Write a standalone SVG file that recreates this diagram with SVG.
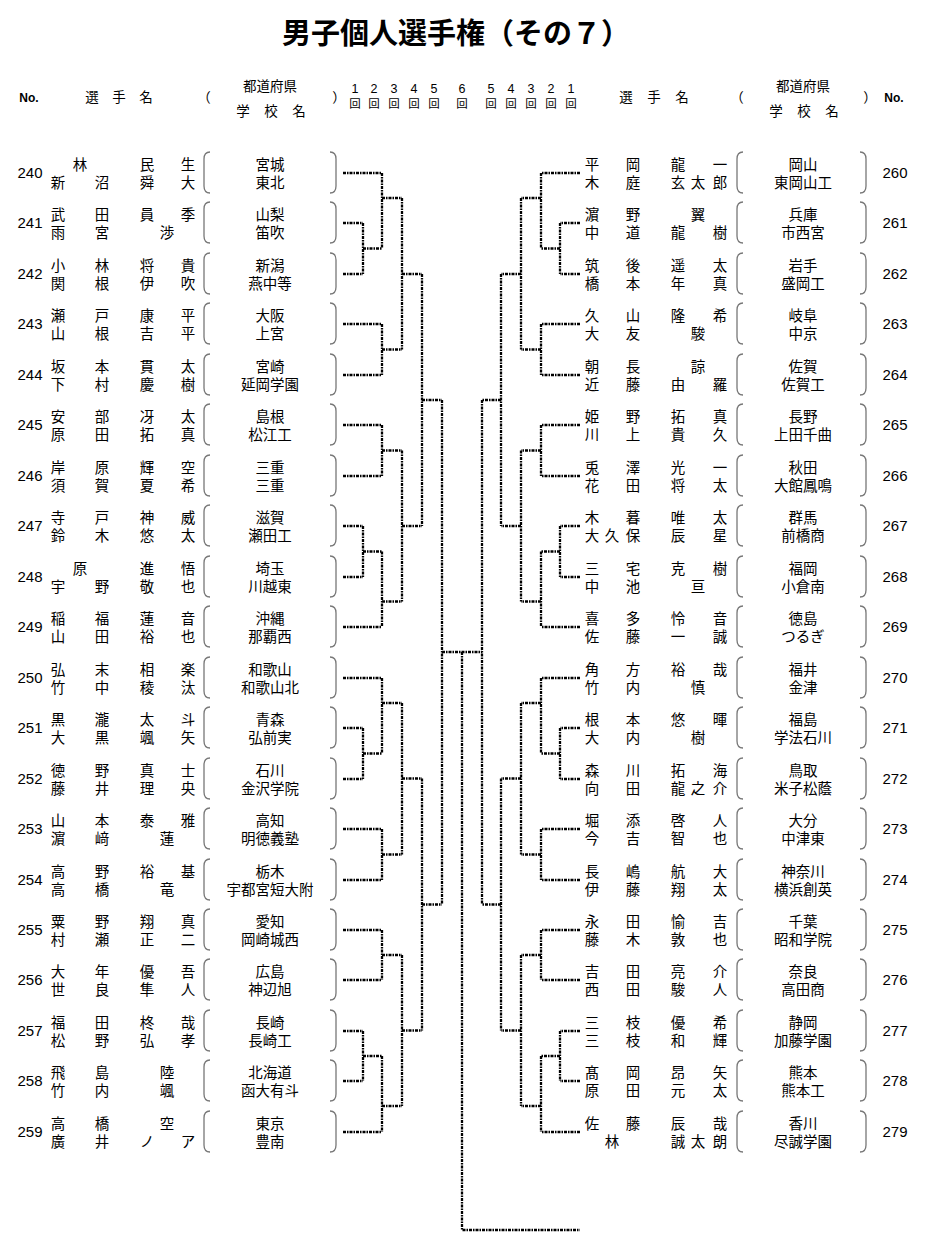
<svg xmlns="http://www.w3.org/2000/svg" xmlns:xlink="http://www.w3.org/1999/xlink" width="931" height="1252" viewBox="0 0 931 1252">
<style>
.bg{fill:#fff}
text{fill:#000}
.t{font-family:"Noto Sans CJK JP",sans-serif;font-size:29px;font-weight:bold;text-anchor:middle}
.h{font-family:"Noto Sans CJK JP",sans-serif;font-size:13.5px;text-anchor:middle}
.hn{font-family:"Liberation Sans",sans-serif;font-size:12px;font-weight:bold;text-anchor:middle}
.rd{font-family:"Liberation Sans",sans-serif;font-size:12.5px;text-anchor:middle}
.rk{font-family:"Noto Sans CJK JP",sans-serif;font-size:11.5px;text-anchor:middle}
.n{font-family:"Noto Sans CJK JP",sans-serif;font-size:14.5px;text-anchor:middle}
.num{font-family:"Liberation Sans",sans-serif;font-size:15px;text-anchor:middle}
.pr{fill:none;stroke:#777;stroke-width:1.3}
.c{fill:none;stroke:#000;stroke-width:2.3;stroke-dasharray:3 1 1.5 1}
</style>
<defs>
<path id="lp" class="pr" d="M6 -21 Q0 -21 0 -14 V13 Q0 20 6 20"/>
<path id="rp" class="pr" d="M0 -21 Q6 -21 6 -14 V13 Q6 20 0 20"/>
</defs>
<rect class="bg" x="0" y="0" width="931" height="1252"/>
<text class="t" x="456" y="44">男子個人選手権（その７）</text>
<g id="header">
<text class="hn" x="29" y="102">No.</text>
<text class="h" x="92 119 146" y="102">選手名</text>
<text class="h" x="204" y="102">（</text>
<text class="h" x="270" y="91">都道府県</text>
<text class="h" x="243 271 299" y="116">学校名</text>
<text class="h" x="339" y="102">）</text>
<text class="rd" x="355 374 394 414 434 462 491 511 531 551 571" y="93">12345654321</text>
<text class="rk" x="355 374 394 414 434 462 491 511 531 551 571" y="108">回回回回回回回回回回回</text>
<text class="h" x="626 654 682" y="102">選手名</text>
<text class="h" x="737" y="102">（</text>
<text class="h" x="803" y="91">都道府県</text>
<text class="h" x="776 804 832" y="116">学校名</text>
<text class="h" x="870" y="102">）</text>
<text class="hn" x="894" y="102">No.</text>
</g>
<g id="connectors">
<path class="c" d="M343 173H382M343 223H363M343 274H363M343 324H382M343 375H382M343 425H382M343 476H382M343 526H363M343 577H363M343 627H382M343 678H382M343 728H363M343 779H363M343 829H382M343 880H382M343 930H382M343 980H382M343 1031H363M343 1081H363M343 1132H382"/>
<path class="c" d="M363 223V274M363 248.5H382M363 526V577M363 551.5H382M363 728V779M363 753.5H382M363 1031V1081M363 1056H382"/>
<path class="c" d="M382 173V248.5M382 198H402M382 324V375M382 349.5H402M382 425V476M382 450.5H402M382 551.5V627M382 601.5H402M382 678V753.5M382 703H402M382 829V880M382 854.5H402M382 930V980M382 955H402M382 1056V1132M382 1106H402"/>
<path class="c" d="M402 198V349.5M402 274H422M402 450.5V601.5M402 526H422M402 703V854.5M402 778.5H422M402 955V1106M402 1030.5H422"/>
<path class="c" d="M422 274V526M422 400H442M422 778.5V1030.5M422 904.5H442"/>
<path class="c" d="M442 400V904.5M442 652H482"/>
<path class="c" d="M462 652V1230H580"/>
<path class="c" d="M580 173H541M580 223H560M580 274H560M580 324H541M580 375H541M580 425H541M580 476H541M580 526H560M580 577H560M580 627H541M580 678H541M580 728H560M580 779H560M580 829H541M580 880H541M580 930H541M580 980H541M580 1031H560M580 1081H560M580 1132H541"/>
<path class="c" d="M560 223V274M560 248.5H541M560 526V577M560 551.5H541M560 728V779M560 753.5H541M560 1031V1081M560 1056H541"/>
<path class="c" d="M541 173V248.5M541 198H521M541 324V375M541 349.5H521M541 425V476M541 450.5H521M541 551.5V627M541 601.5H521M541 678V753.5M541 703H521M541 829V880M541 854.5H521M541 930V980M541 955H521M541 1056V1132M541 1106H521"/>
<path class="c" d="M521 198V349.5M521 274H501M521 450.5V601.5M521 526H501M521 703V854.5M521 778.5H501M521 955V1106M521 1030.5H501"/>
<path class="c" d="M501 274V526M501 400H482M501 778.5V1030.5M501 904.5H482"/>
<path class="c" d="M482 400V904.5"/>
</g>
<g id="p240"><text class="num" x="30" y="178">240</text><text class="n" x="80 147 188" y="170">林民生</text><text class="n" x="58 102 147 188" y="188">新沼舜大</text><use xlink:href="#lp" x="204" y="173"/><text class="n" x="270" y="170">宮城</text><text class="n" x="270" y="188">東北</text><use xlink:href="#rp" x="330" y="173"/></g>
<g id="p241"><text class="num" x="30" y="228">241</text><text class="n" x="58 102 147 188" y="220">武田員季</text><text class="n" x="58 102 167" y="238">雨宮渉</text><use xlink:href="#lp" x="204" y="223"/><text class="n" x="270" y="220">山梨</text><text class="n" x="270" y="238">笛吹</text><use xlink:href="#rp" x="330" y="223"/></g>
<g id="p242"><text class="num" x="30" y="279">242</text><text class="n" x="58 102 147 188" y="271">小林将貴</text><text class="n" x="58 102 147 188" y="289">関根伊吹</text><use xlink:href="#lp" x="204" y="274"/><text class="n" x="270" y="271">新潟</text><text class="n" x="270" y="289">燕中等</text><use xlink:href="#rp" x="330" y="274"/></g>
<g id="p243"><text class="num" x="30" y="329">243</text><text class="n" x="58 102 147 188" y="321">瀬戸康平</text><text class="n" x="58 102 147 188" y="339">山根吉平</text><use xlink:href="#lp" x="204" y="324"/><text class="n" x="270" y="321">大阪</text><text class="n" x="270" y="339">上宮</text><use xlink:href="#rp" x="330" y="324"/></g>
<g id="p244"><text class="num" x="30" y="380">244</text><text class="n" x="58 102 147 188" y="372">坂本貫太</text><text class="n" x="58 102 147 188" y="390">下村慶樹</text><use xlink:href="#lp" x="204" y="375"/><text class="n" x="270" y="372">宮崎</text><text class="n" x="270" y="390">延岡学園</text><use xlink:href="#rp" x="330" y="375"/></g>
<g id="p245"><text class="num" x="30" y="430">245</text><text class="n" x="58 102 147 188" y="422">安部冴太</text><text class="n" x="58 102 147 188" y="440">原田拓真</text><use xlink:href="#lp" x="204" y="425"/><text class="n" x="270" y="422">島根</text><text class="n" x="270" y="440">松江工</text><use xlink:href="#rp" x="330" y="425"/></g>
<g id="p246"><text class="num" x="30" y="481">246</text><text class="n" x="58 102 147 188" y="473">岸原輝空</text><text class="n" x="58 102 147 188" y="491">須賀夏希</text><use xlink:href="#lp" x="204" y="476"/><text class="n" x="270" y="473">三重</text><text class="n" x="270" y="491">三重</text><use xlink:href="#rp" x="330" y="476"/></g>
<g id="p247"><text class="num" x="30" y="531">247</text><text class="n" x="58 102 147 188" y="523">寺戸神威</text><text class="n" x="58 102 147 188" y="541">鈴木悠太</text><use xlink:href="#lp" x="204" y="526"/><text class="n" x="270" y="523">滋賀</text><text class="n" x="270" y="541">瀬田工</text><use xlink:href="#rp" x="330" y="526"/></g>
<g id="p248"><text class="num" x="30" y="582">248</text><text class="n" x="80 147 188" y="574">原進悟</text><text class="n" x="58 102 147 188" y="592">宇野敬也</text><use xlink:href="#lp" x="204" y="577"/><text class="n" x="270" y="574">埼玉</text><text class="n" x="270" y="592">川越東</text><use xlink:href="#rp" x="330" y="577"/></g>
<g id="p249"><text class="num" x="30" y="632">249</text><text class="n" x="58 102 147 188" y="624">稲福蓮音</text><text class="n" x="58 102 147 188" y="642">山田裕也</text><use xlink:href="#lp" x="204" y="627"/><text class="n" x="270" y="624">沖縄</text><text class="n" x="270" y="642">那覇西</text><use xlink:href="#rp" x="330" y="627"/></g>
<g id="p250"><text class="num" x="30" y="683">250</text><text class="n" x="58 102 147 188" y="675">弘末相楽</text><text class="n" x="58 102 147 188" y="693">竹中稜汰</text><use xlink:href="#lp" x="204" y="678"/><text class="n" x="270" y="675">和歌山</text><text class="n" x="270" y="693">和歌山北</text><use xlink:href="#rp" x="330" y="678"/></g>
<g id="p251"><text class="num" x="30" y="733">251</text><text class="n" x="58 102 147 188" y="725">黒瀧太斗</text><text class="n" x="58 102 147 188" y="743">大黒颯矢</text><use xlink:href="#lp" x="204" y="728"/><text class="n" x="270" y="725">青森</text><text class="n" x="270" y="743">弘前実</text><use xlink:href="#rp" x="330" y="728"/></g>
<g id="p252"><text class="num" x="30" y="784">252</text><text class="n" x="58 102 147 188" y="776">徳野真士</text><text class="n" x="58 102 147 188" y="794">藤井理央</text><use xlink:href="#lp" x="204" y="779"/><text class="n" x="270" y="776">石川</text><text class="n" x="270" y="794">金沢学院</text><use xlink:href="#rp" x="330" y="779"/></g>
<g id="p253"><text class="num" x="30" y="834">253</text><text class="n" x="58 102 147 188" y="826">山本泰雅</text><text class="n" x="58 102 167" y="844">濵﨑蓮</text><use xlink:href="#lp" x="204" y="829"/><text class="n" x="270" y="826">高知</text><text class="n" x="270" y="844">明徳義塾</text><use xlink:href="#rp" x="330" y="829"/></g>
<g id="p254"><text class="num" x="30" y="885">254</text><text class="n" x="58 102 147 188" y="877">高野裕基</text><text class="n" x="58 102 167" y="895">高橋竜</text><use xlink:href="#lp" x="204" y="880"/><text class="n" x="270" y="877">栃木</text><text class="n" x="270" y="895">宇都宮短大附</text><use xlink:href="#rp" x="330" y="880"/></g>
<g id="p255"><text class="num" x="30" y="935">255</text><text class="n" x="58 102 147 188" y="927">粟野翔真</text><text class="n" x="58 102 147 188" y="945">村瀬正二</text><use xlink:href="#lp" x="204" y="930"/><text class="n" x="270" y="927">愛知</text><text class="n" x="270" y="945">岡崎城西</text><use xlink:href="#rp" x="330" y="930"/></g>
<g id="p256"><text class="num" x="30" y="985">256</text><text class="n" x="58 102 147 188" y="977">大年優吾</text><text class="n" x="58 102 147 188" y="995">世良隼人</text><use xlink:href="#lp" x="204" y="980"/><text class="n" x="270" y="977">広島</text><text class="n" x="270" y="995">神辺旭</text><use xlink:href="#rp" x="330" y="980"/></g>
<g id="p257"><text class="num" x="30" y="1036">257</text><text class="n" x="58 102 147 188" y="1028">福田柊哉</text><text class="n" x="58 102 147 188" y="1046">松野弘孝</text><use xlink:href="#lp" x="204" y="1031"/><text class="n" x="270" y="1028">長崎</text><text class="n" x="270" y="1046">長崎工</text><use xlink:href="#rp" x="330" y="1031"/></g>
<g id="p258"><text class="num" x="30" y="1086">258</text><text class="n" x="58 102 167" y="1078">飛島陸</text><text class="n" x="58 102 167" y="1096">竹内颯</text><use xlink:href="#lp" x="204" y="1081"/><text class="n" x="270" y="1078">北海道</text><text class="n" x="270" y="1096">函大有斗</text><use xlink:href="#rp" x="330" y="1081"/></g>
<g id="p259"><text class="num" x="30" y="1137">259</text><text class="n" x="58 102 167" y="1129">高橋空</text><text class="n" x="58 102 147 188" y="1147">廣井ノア</text><use xlink:href="#lp" x="204" y="1132"/><text class="n" x="270" y="1129">東京</text><text class="n" x="270" y="1147">豊南</text><use xlink:href="#rp" x="330" y="1132"/></g>
<g id="p260"><text class="n" x="592 633 678 720" y="170">平岡龍一</text><text class="n" x="592 633 678 698 720" y="188">木庭玄太郎</text><use xlink:href="#lp" x="737" y="173"/><text class="n" x="803" y="170">岡山</text><text class="n" x="803" y="188">東岡山工</text><use xlink:href="#rp" x="860" y="173"/><text class="num" x="895" y="178">260</text></g>
<g id="p261"><text class="n" x="592 633 698" y="220">濵野翼</text><text class="n" x="592 633 678 720" y="238">中道龍樹</text><use xlink:href="#lp" x="737" y="223"/><text class="n" x="803" y="220">兵庫</text><text class="n" x="803" y="238">市西宮</text><use xlink:href="#rp" x="860" y="223"/><text class="num" x="895" y="228">261</text></g>
<g id="p262"><text class="n" x="592 633 678 720" y="271">筑後遥太</text><text class="n" x="592 633 678 720" y="289">橋本年真</text><use xlink:href="#lp" x="737" y="274"/><text class="n" x="803" y="271">岩手</text><text class="n" x="803" y="289">盛岡工</text><use xlink:href="#rp" x="860" y="274"/><text class="num" x="895" y="279">262</text></g>
<g id="p263"><text class="n" x="592 633 678 720" y="321">久山隆希</text><text class="n" x="592 633 698" y="339">大友駿</text><use xlink:href="#lp" x="737" y="324"/><text class="n" x="803" y="321">岐阜</text><text class="n" x="803" y="339">中京</text><use xlink:href="#rp" x="860" y="324"/><text class="num" x="895" y="329">263</text></g>
<g id="p264"><text class="n" x="592 633 698" y="372">朝長諒</text><text class="n" x="592 633 678 720" y="390">近藤由羅</text><use xlink:href="#lp" x="737" y="375"/><text class="n" x="803" y="372">佐賀</text><text class="n" x="803" y="390">佐賀工</text><use xlink:href="#rp" x="860" y="375"/><text class="num" x="895" y="380">264</text></g>
<g id="p265"><text class="n" x="592 633 678 720" y="422">姫野拓真</text><text class="n" x="592 633 678 720" y="440">川上貴久</text><use xlink:href="#lp" x="737" y="425"/><text class="n" x="803" y="422">長野</text><text class="n" x="803" y="440">上田千曲</text><use xlink:href="#rp" x="860" y="425"/><text class="num" x="895" y="430">265</text></g>
<g id="p266"><text class="n" x="592 633 678 720" y="473">兎澤光一</text><text class="n" x="592 633 678 720" y="491">花田将太</text><use xlink:href="#lp" x="737" y="476"/><text class="n" x="803" y="473">秋田</text><text class="n" x="803" y="491">大館鳳鳴</text><use xlink:href="#rp" x="860" y="476"/><text class="num" x="895" y="481">266</text></g>
<g id="p267"><text class="n" x="592 633 678 720" y="523">木暮唯太</text><text class="n" x="592 612 633 678 720" y="541">大久保辰星</text><use xlink:href="#lp" x="737" y="526"/><text class="n" x="803" y="523">群馬</text><text class="n" x="803" y="541">前橋商</text><use xlink:href="#rp" x="860" y="526"/><text class="num" x="895" y="531">267</text></g>
<g id="p268"><text class="n" x="592 633 678 720" y="574">三宅克樹</text><text class="n" x="592 633 698" y="592">中池亘</text><use xlink:href="#lp" x="737" y="577"/><text class="n" x="803" y="574">福岡</text><text class="n" x="803" y="592">小倉南</text><use xlink:href="#rp" x="860" y="577"/><text class="num" x="895" y="582">268</text></g>
<g id="p269"><text class="n" x="592 633 678 720" y="624">喜多怜音</text><text class="n" x="592 633 678 720" y="642">佐藤一誠</text><use xlink:href="#lp" x="737" y="627"/><text class="n" x="803" y="624">徳島</text><text class="n" x="803" y="642">つるぎ</text><use xlink:href="#rp" x="860" y="627"/><text class="num" x="895" y="632">269</text></g>
<g id="p270"><text class="n" x="592 633 678 720" y="675">角方裕哉</text><text class="n" x="592 633 698" y="693">竹内慎</text><use xlink:href="#lp" x="737" y="678"/><text class="n" x="803" y="675">福井</text><text class="n" x="803" y="693">金津</text><use xlink:href="#rp" x="860" y="678"/><text class="num" x="895" y="683">270</text></g>
<g id="p271"><text class="n" x="592 633 678 720" y="725">根本悠暉</text><text class="n" x="592 633 698" y="743">大内樹</text><use xlink:href="#lp" x="737" y="728"/><text class="n" x="803" y="725">福島</text><text class="n" x="803" y="743">学法石川</text><use xlink:href="#rp" x="860" y="728"/><text class="num" x="895" y="733">271</text></g>
<g id="p272"><text class="n" x="592 633 678 720" y="776">森川拓海</text><text class="n" x="592 633 678 698 720" y="794">向田龍之介</text><use xlink:href="#lp" x="737" y="779"/><text class="n" x="803" y="776">鳥取</text><text class="n" x="803" y="794">米子松蔭</text><use xlink:href="#rp" x="860" y="779"/><text class="num" x="895" y="784">272</text></g>
<g id="p273"><text class="n" x="592 633 678 720" y="826">堀添啓人</text><text class="n" x="592 633 678 720" y="844">今吉智也</text><use xlink:href="#lp" x="737" y="829"/><text class="n" x="803" y="826">大分</text><text class="n" x="803" y="844">中津東</text><use xlink:href="#rp" x="860" y="829"/><text class="num" x="895" y="834">273</text></g>
<g id="p274"><text class="n" x="592 633 678 720" y="877">長嶋航大</text><text class="n" x="592 633 678 720" y="895">伊藤翔太</text><use xlink:href="#lp" x="737" y="880"/><text class="n" x="803" y="877">神奈川</text><text class="n" x="803" y="895">横浜創英</text><use xlink:href="#rp" x="860" y="880"/><text class="num" x="895" y="885">274</text></g>
<g id="p275"><text class="n" x="592 633 678 720" y="927">永田愉吉</text><text class="n" x="592 633 678 720" y="945">藤木敦也</text><use xlink:href="#lp" x="737" y="930"/><text class="n" x="803" y="927">千葉</text><text class="n" x="803" y="945">昭和学院</text><use xlink:href="#rp" x="860" y="930"/><text class="num" x="895" y="935">275</text></g>
<g id="p276"><text class="n" x="592 633 678 720" y="977">吉田亮介</text><text class="n" x="592 633 678 720" y="995">西田駿人</text><use xlink:href="#lp" x="737" y="980"/><text class="n" x="803" y="977">奈良</text><text class="n" x="803" y="995">高田商</text><use xlink:href="#rp" x="860" y="980"/><text class="num" x="895" y="985">276</text></g>
<g id="p277"><text class="n" x="592 633 678 720" y="1028">三枝優希</text><text class="n" x="592 633 678 720" y="1046">三枝和輝</text><use xlink:href="#lp" x="737" y="1031"/><text class="n" x="803" y="1028">静岡</text><text class="n" x="803" y="1046">加藤学園</text><use xlink:href="#rp" x="860" y="1031"/><text class="num" x="895" y="1036">277</text></g>
<g id="p278"><text class="n" x="592 633 678 720" y="1078">髙岡昂矢</text><text class="n" x="592 633 678 720" y="1096">原田元太</text><use xlink:href="#lp" x="737" y="1081"/><text class="n" x="803" y="1078">熊本</text><text class="n" x="803" y="1096">熊本工</text><use xlink:href="#rp" x="860" y="1081"/><text class="num" x="895" y="1086">278</text></g>
<g id="p279"><text class="n" x="592 633 678 720" y="1129">佐藤辰哉</text><text class="n" x="612 678 698 720" y="1147">林誠太朗</text><use xlink:href="#lp" x="737" y="1132"/><text class="n" x="803" y="1129">香川</text><text class="n" x="803" y="1147">尽誠学園</text><use xlink:href="#rp" x="860" y="1132"/><text class="num" x="895" y="1137">279</text></g>
</svg>
